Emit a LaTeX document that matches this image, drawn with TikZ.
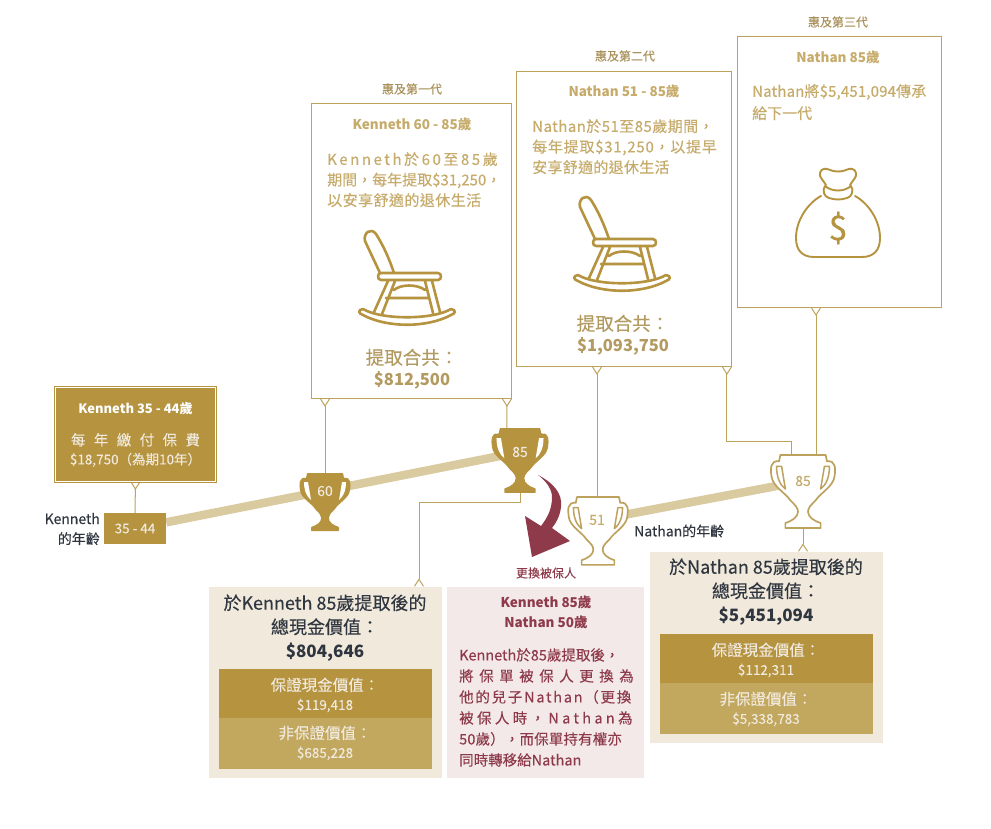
\documentclass[tikz,border=0pt]{standalone}
\usepackage{fontspec}
\setmainfont{Noto Sans CJK TC}[UprightFeatures={FakeBold=0.2}]
\usepackage{tikz}
\usetikzlibrary{arrows.meta, calc, backgrounds}

\definecolor{golddark}{HTML}{B5933F}
\definecolor{goldlight}{HTML}{C2A75E}
\definecolor{goldtext}{HTML}{C6AB6B}
\definecolor{goldline}{HTML}{BDA25E}
\definecolor{agetan}{HTML}{DACA9F}
\definecolor{creambg}{HTML}{F0E9DC}
\definecolor{pinkbg}{HTML}{F3E9E9}
\definecolor{swapred}{HTML}{8E3A4A}
\definecolor{inkdark}{HTML}{2F3640}

\newcommand{\track}[2]{{\addfontfeature{LetterSpace=#1}#2}}
\newcommand{\fsize}[2]{\fontsize{#1}{#2}\selectfont}

\tikzset{
    trophyfilled/.pic={
        \begin{scope}[scale=#1]
            \fill[golddark, rounded corners=0.6pt] (18,0) -- (19,5) .. controls (26,4) and (26,11) .. (25,17) .. controls (24,25) and (14,30) .. (10,36) .. controls (6,40) and (4,42) .. (4,45) .. controls (4,49) and (8,52) .. (14,54) -- (14,58) -- (-14,58) -- (-14,54) .. controls (-8,52) and (-4,49) .. (-4,45) .. controls (-4,42) and (-6,40) .. (-10,36) .. controls (-14,30) and (-24,25) .. (-25,17) .. controls (-26,11) and (-26,4) .. (-19,5) -- (-18,0) -- cycle;
            \fill[white] (-21,9) -- (-17,9) -- (-14,27) .. controls (-18,24) and (-21,18) .. cycle;
            \fill[white] (21,9) -- (17,9) -- (14,27) .. controls (18,24) and (21,18) .. cycle;
        \end{scope}
    },
    trophyopen/.pic={
        \begin{scope}[scale=#1]
            \draw[goldline, fill=white, line width=1.7pt, line join=round] (18,0) -- (19,5) .. controls (26,4) and (26,11) .. (25,17) .. controls (24,25) and (14,30) .. (10,36) .. controls (6,40) and (4,42) .. (4,45) .. controls (4,49) and (8,52) .. (14,54) -- (14,58) -- (-14,58) -- (-14,54) .. controls (-8,52) and (-4,49) .. (-4,45) .. controls (-4,42) and (-6,40) .. (-10,36) .. controls (-14,30) and (-24,25) .. (-25,17) .. controls (-26,11) and (-26,4) .. (-19,5) -- (-18,0) -- cycle;
            \draw[goldline, line width=1.5pt, line join=round] (-21,9) -- (-17,9) -- (-14,27) .. controls (-18,24) and (-21,18) .. cycle;
            \draw[goldline, line width=1.5pt, line join=round] (21,9) -- (17,9) -- (14,27) .. controls (18,24) and (21,18) .. cycle;
        \end{scope}
    },
    rocker/.pic={
        \draw[golddark, line width=2.6pt, line join=round, line cap=round]
            (-27,43) -- (-42,11) .. controls (-44,3) and (-36,-3) .. (-31,4) .. controls (-24,15) and (-18,28) .. (-13,43)
            (-26,43) -- (31,43) .. controls (35,43) and (35,50) .. (31,50) -- (-26,50) .. controls (-30,50) and (-30,43) .. (-26,43)
            (-19,51) -- (-33,82) (-12,51) -- (-25,84)
            (18,51) -- (26,83) (25,51) -- (33,82)
            (-21,68) -- (22,68)
            (-13,60) .. controls (-6,54) and (10,54) .. (18,60)
            (-44,79) .. controls (-26,90) and (26,90) .. (44,79) .. controls (50,80) and (48,84) .. (44,85) .. controls (20,98) and (-20,98) .. (-44,85) .. controls (-48,84) and (-50,80) .. (-44,79) -- cycle;
    },
    moneybag/.pic={
        \draw[golddark, line width=1.9pt, line join=round, line cap=round]
            (-12,17) .. controls (-15,12) and (-19,9) .. (-18,5) .. controls (-17,0) and (-12,0) .. (-8,2) .. controls (-4,4) and (4,4) .. (8,2) .. controls (12,0) and (17,0) .. (18,5) .. controls (19,9) and (15,12) .. (12,17)
            (-13,18) .. controls (-6,24) and (6,24) .. (13,18) .. controls (16,22) and (14,29) .. (9,30) .. controls (3,32) and (-3,32) .. (-9,30) .. controls (-14,29) and (-16,22) .. (-13,18) -- cycle
            (17,28) .. controls (30,35) and (42,52) .. (42,70) .. controls (42,82) and (36,89) .. (24,89) -- (-24,89) .. controls (-36,89) and (-42,82) .. (-42,70) .. controls (-42,52) and (-30,35) .. (-17,28);
    }
}

\begin{document}
\begin{tikzpicture}[
        x=1pt, y=-1pt,
        linkbox/.style={rectangle, draw=goldline, fill=white, line width=0.9pt, inner sep=0pt},
        paybox/.style={rectangle, draw=white, fill=golddark, line width=1pt, inner sep=0pt, preaction={draw=golddark, line width=3pt}},
        agebox/.style={rectangle, fill=golddark, text=creambg, minimum width=62pt, minimum height=31pt, inner sep=0pt, font=\fsize{13.5}{15}},
        valuebox/.style={rectangle, fill=creambg, minimum width=233pt, minimum height=191pt, inner sep=0pt},
        swapbox/.style={rectangle, fill=pinkbg, minimum width=197pt, minimum height=191pt, inner sep=0pt},
        bardark/.style={rectangle, fill=golddark, minimum width=213pt, minimum height=49pt, inner sep=0pt},
        barlight/.style={rectangle, fill=goldlight, minimum width=213pt, minimum height=51pt, inner sep=0pt},
        gentag/.style={text=goldtext!85!black, font=\fsize{12}{14}, inner sep=0pt},
        genhead/.style={text=goldtext, font=\fsize{13.5}{15}\bfseries, inner sep=0pt},
        genbody/.style={text=goldtext, font=\fsize{15}{20.5}, align=left, anchor=north west, inner sep=0pt},
        gensum/.style={text=goldtext!90!black, font=\fsize{18.5}{21}, align=center, inner sep=0pt},
        valuehead/.style={text=inkdark, font=\fsize{18}{24}, align=center, inner sep=0pt},
        barlabel/.style={text=creambg, font=\fsize{15.5}{19}, align=center, inner sep=0pt},
        trophynum/.style={inner sep=0pt, font=\fsize{14}{16}},
        inklabel/.style={text=inkdark, font=\fsize{14}{20}, inner sep=0pt},
        wire/.style={draw=goldline, line width=1pt},
        tipwire/.style={wire, {Straight Barb[reversed, length=7pt, width=9pt, line width=1pt]}-},
        endwire/.style={wire, -{Straight Barb[reversed, length=7pt, width=9pt, line width=1pt]}},
        ageline/.style={draw=agetan, line width=8.5pt}
    ]
    \useasboundingbox (0,0) rectangle (991,829);

    % first payment
    \node[paybox, minimum width=160pt, minimum height=94pt] (paybox) at (135.5,434) {};
    \node[text=white, font=\fsize{13}{15}\bfseries, inner sep=0pt] (payhead) at (135.5,409) {Kenneth 35 - 44歲};
    \node[text=creambg, font=\fsize{13.5}{19}, align=center, inner sep=0pt] (paytext) at (135.5,450) {{\fsize{14.5}{19}\track{58}{每年繳付保費}}\\\$18,750（為期10年）};
    \node[agebox] (agestart) at (135,528.5) {35 - 44};
    \node[inklabel, align=right, anchor=east] (kennethage) at (100,529) {Kenneth\\的年齡};

    % age marks
    \node[trophynum, text=creambg] (t60) at (325,491) {60};
    \node[trophynum, text=creambg] (t85) at (520,452) {85};
    \node[trophynum, text=goldtext] (t51) at (597,520) {51};
    \node[trophynum, text=goldtext] (t85n) at (803,481) {85};
    \node[inklabel, anchor=west] (nathanage) at (634,531) {Nathan的年齡};

    % first generation
    \node[linkbox, minimum width=200pt, minimum height=295pt] (genone) at (411.5,250.5) {};
    \node[gentag] (genonetag) at (412,89) {惠及第一代};
    \node[genhead] (genonehead) at (412,124) {Kenneth 60 - 85歲};
    \node[genbody] (genonebody) at (327,152) {\track{17}{Kenneth於60至85歲}\\期間，每年提取\$31,250，\\\track{3}{以安享舒適的退休生活}};
    \node[gensum] (genonesum) at (412,369) {提取合共：\\{\fsize{16.5}{21}\textbf{\$812,500}}};
    \pic at (407,230) {rocker};

    % second generation
    \node[linkbox, minimum width=215pt, minimum height=295pt] (gentwo) at (624,218.5) {};
    \node[gentag] (gentwotag) at (625,56) {惠及第二代};
    \node[genhead] (gentwohead) at (624,91) {Nathan 51 - 85歲};
    \node[genbody] (gentwobody) at (532,119) {\track{3}{Nathan於51至85歲期間，}\\\track{5}{每年提取\$31,250，以提早}\\\track{2}{安享舒適的退休生活}};
    \node[gensum] (gentwosum) at (623,335) {提取合共：\\{\fsize{16.5}{21}\textbf{\$1,093,750}}};
    \pic at (622,196) {rocker};

    % third generation
    \node[linkbox, minimum width=204pt, minimum height=271pt] (genthree) at (839,171.5) {};
    \node[gentag] (genthreetag) at (838,22) {惠及第三代};
    \node[genhead] (genthreehead) at (838,57) {Nathan 85歲};
    \node[genbody, font=\fsize{15}{22}] (genthreebody) at (752,84) {\track{1}{Nathan將\$5,451,094傳承}\\給下一代};
    \pic at (838,168) {moneybag};
    \node[text=golddark, font=\fsize{34}{38}, inner sep=0pt] (bagsign) at (838,228) {\$};

    % cash value at Kenneth 85
    \node[valuebox] (valueone) at (325.5,682.5) {};
    \node[valuehead] (valueonehead) at (325,628) {於Kenneth 85歲提取後的\\總現金價值：\\{\fsize{17}{24}\textbf{\$804,646}}};
    \node[bardark] (valueonefix) at (325.5,693.5) {};
    \node[barlight] (valueonevar) at (325.5,743.5) {};
    \node[barlabel] (valueonefixtext) at (325,695) {保證現金價值：\\{\fsize{13.5}{14}\$119,418}};
    \node[barlabel] (valueonevartext) at (325,743) {非保證價值：\\{\fsize{13.5}{14}\$685,228}};

    % insured change
    \node[swapbox] (swap) at (545.5,682.5) {};
    \node[text=swapred, font=\fsize{12}{14}, inner sep=0pt] (swaptag) at (546,573) {更換被保人};
    \node[text=swapred, font=\fsize{13.5}{20}\bfseries, align=center, inner sep=0pt] (swaphead) at (546,612) {Kenneth 85歲\\Nathan 50歲};
    \node[text=swapred, font=\fsize{14.5}{21}, align=left, anchor=north west, inner sep=0pt] (swapbody) at (459,648) {Kenneth於85歲提取後，\\\track{38}{將保單被保人更換為}\\\track{12}{他的兒子Nathan（更換}\\\track{23}{被保人時，Nathan為}\\\track{1}{50歲），而保單持有權亦}\\同時轉移給Nathan};

    % cash value at Nathan 85
    \node[valuebox] (valuetwo) at (766.5,647.5) {};
    \node[valuehead] (valuetwohead) at (766,592) {於Nathan 85歲提取後的\\總現金價值：\\{\fsize{17}{24}\textbf{\$5,451,094}}};
    \node[bardark] (valuetwofix) at (766,658.5) {};
    \node[barlight] (valuetwovar) at (766,708.5) {};
    \node[barlabel] (valuetwofixtext) at (766,660) {保證現金價值：\\{\fsize{13.5}{14}\$112,311}};
    \node[barlabel] (valuetwovartext) at (766,709) {非保證價值：\\{\fsize{13.5}{14}\$5,338,783}};

    \begin{scope}[on background layer]
        \draw[ageline] (agestart) -- (t85);
        \draw[ageline] (t51) -- (t85n);

        \draw[tipwire] (paybox.south) -- (agestart.north);
        \draw[tipwire] (genone.south -| t60) -- (t60);
        \draw[tipwire] ([xshift=-5pt]genone.south east) -- ([xshift=-13pt]t85.center);
        \draw[tipwire] (gentwo.south -| t51) -- (t51);
        \draw[tipwire] ([xshift=-5pt]gentwo.south east) |- ([xshift=-12pt,yshift=40pt]t85n.center) -- ([xshift=-12pt]t85n.center);
        \draw[tipwire] ([xshift=13pt]t85n.center |- genthree.south) -- ([xshift=13pt]t85n.center);
        \draw[endwire] (t85) |- ([xshift=-101pt,yshift=-50pt]t85.center) -- (valueone.north -| 419,0);
        \draw[endwire] (t85n) -- (valuetwo.north -| t85n);

        \pic at (325,473) {trophyfilled=1};
        \pic at (520,428) {trophyfilled=1.12};
        \pic at (598,497) {trophyopen=1.17};
        \pic at (803,455) {trophyopen=1.26};
    \end{scope}

    % swap arrow
    \fill[swapred] (538,475) .. controls (552,482) and (563,493) .. (561,507) .. controls (560,516) and (556,523) .. (552,528) -- (570,541) -- (532,557) -- (525,516) -- (541,526) .. controls (547,518) and (552,510) .. (552,497) .. controls (552,489) and (546,481) .. cycle;
\end{tikzpicture}
\end{document}
